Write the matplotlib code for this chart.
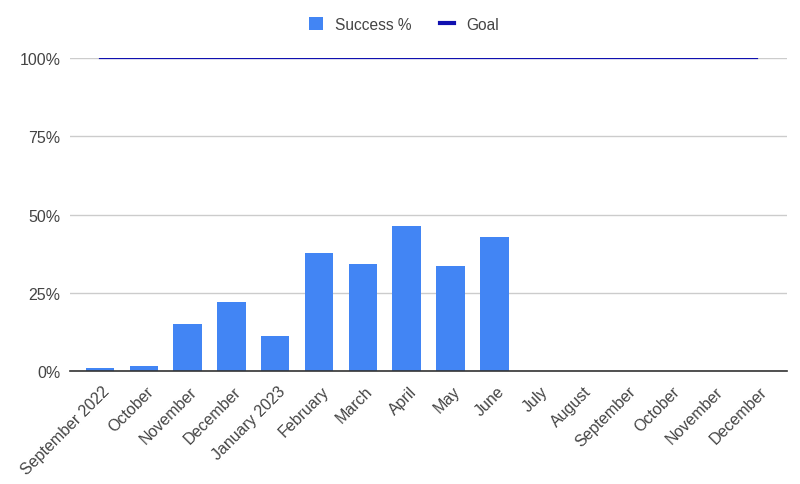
import matplotlib.pyplot as plt
import matplotlib.transforms as mtransforms
import numpy as np
from matplotlib.lines import Line2D
from matplotlib.patches import Patch

plt.rcParams['font.family'] = ['Liberation Sans', 'DejaVu Sans']

# month labels along the x axis
months = ['September 2022', 'October', 'November', 'December', 'January 2023',
          'February', 'March', 'April', 'May', 'June', 'July', 'August',
          'September', 'October', 'November', 'December']
# success rate per month (fraction), empty months left as 0
success = [0.010, 0.017, 0.150, 0.219, 0.111, 0.376, 0.341, 0.463,
           0.337, 0.427, 0, 0, 0, 0, 0, 0]
goal = [1.0] * len(months)

BAR_COLOR = '#4285f4'
GOAL_COLOR = '#1010b0'
TEXT_COLOR = '#444444'

fig = plt.figure(figsize=(8, 4.85), dpi=100)
ax = fig.add_axes([0.0875, 0.233, 0.8965, 0.645])

x = np.arange(len(months))
ax.bar(x, success, width=0.65, color=BAR_COLOR, zorder=3)
ax.plot(x, goal, color=GOAL_COLOR, linewidth=1.6, zorder=4)

ax.set_xlim(-0.685, len(months) - 1 + 0.685)
ax.set_ylim(0, 1.0)
ax.set_yticks([0, 0.25, 0.5, 0.75, 1.0])
ax.set_yticklabels(['0%', '25%', '50%', '75%', '100%'])
ax.yaxis.grid(True, color='#cccccc', linewidth=1, zorder=0)
ax.set_xticks(x)
ax.set_xticklabels(months, rotation=45, ha='right', rotation_mode='anchor')

for side in ['top', 'right', 'left']:
    ax.spines[side].set_visible(False)
ax.spines['bottom'].set_color('#333333')
ax.spines['bottom'].set_linewidth(1.2)
ax.spines['bottom'].set_zorder(5)
ax.tick_params(axis='both', length=0, labelsize=11.5, labelcolor=TEXT_COLOR)
ax.tick_params(axis='y', pad=7)
ax.tick_params(axis='x', pad=9)
# nudge the rotated month labels a little right, like the original
shift = mtransforms.ScaledTranslation(2 / 100, 0, fig.dpi_scale_trans)
for lbl in ax.get_xticklabels():
    lbl.set_transform(lbl.get_transform() + shift)

handles = [Patch(facecolor=BAR_COLOR, label='Success %'),
           Line2D([0], [0], color=GOAL_COLOR, linewidth=3, label='Goal')]
fig.legend(handles=handles, loc='center', bbox_to_anchor=(0.505, 0.948), ncol=2,
           frameon=False, fontsize=11.2, handlelength=0.9, handleheight=0.9,
           columnspacing=1.8, handletextpad=0.8, labelcolor=TEXT_COLOR)

fig.savefig('out.png', dpi=100, facecolor='white')
